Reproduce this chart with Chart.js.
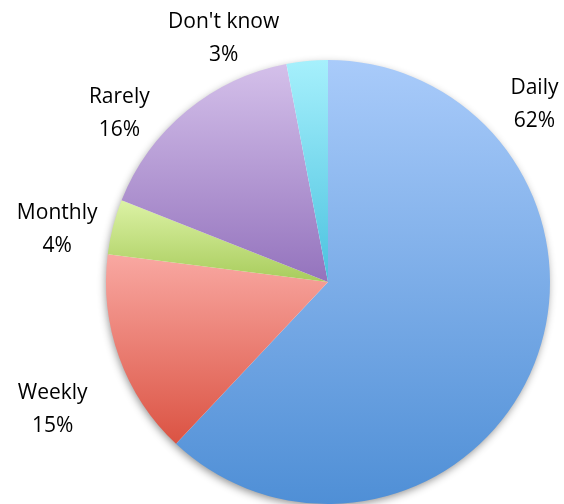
<!DOCTYPE html>
<html>
<head>
<meta charset="utf-8">
<script src="https://cdn.jsdelivr.net/npm/chart.js@4"></script>
<style>
  html, body { margin: 0; padding: 0; background: #fff; }
  #wrap { width: 564px; height: 504px; position: relative; }
</style>
</head>
<body>
<div id="wrap"><canvas id="pieChart"></canvas></div>
<script>
const labels = ["Daily", "Weekly", "Monthly", "Rarely", "Don't know"];
const shares = [62, 15, 4, 16, 3];
const topColors = ["#a9cbfa", "#f9a8a2", "#dcf2a5", "#d4c0ea", "#a6f0fc"];
const bottomColors = ["#4f8fd6", "#db5343", "#a8cc5c", "#9473bd", "#4bc2df"];

// label placement, as offsets from the pie centre in units of the radius
const labelSpots = [[0.93, -0.80], [-1.24, 0.57], [-1.22, -0.24], [-0.94, -0.76], [-0.47, -1.10]];

// vertical extent of one slice, used for its own top-to-bottom gradient
function sliceExtent(i, cy, r) {
  const total = shares.reduce((a, b) => a + b, 0);
  let before = 0;
  for (let k = 0; k < i; k++) before += shares[k];
  const a0 = -Math.PI / 2 + before / total * Math.PI * 2;
  const a1 = a0 + shares[i] / total * Math.PI * 2;
  const ys = [cy, cy + r * Math.sin(a0), cy + r * Math.sin(a1)];
  for (let a = -Math.PI / 2; a <= 3 * Math.PI; a += Math.PI) {
    if (a >= a0 && a <= a1) ys.push(cy + r * Math.sin(a));
  }
  return [Math.min(...ys), Math.max(...ys)];
}

const pieShadow = {
  id: "pieShadow",
  beforeDatasetsDraw(chart) {
    const arc = chart.getDatasetMeta(0).data[0];
    if (!arc) return;
    const ctx = chart.ctx;
    ctx.save();
    ctx.shadowColor = "rgba(0,0,0,0.45)";
    ctx.shadowBlur = 9;
    ctx.shadowOffsetX = -1;
    ctx.shadowOffsetY = 3;
    ctx.fillStyle = "#ffffff";
    ctx.beginPath();
    ctx.arc(arc.x, arc.y, arc.outerRadius - 1, 0, Math.PI * 2);
    ctx.fill();
    ctx.restore();
  }
};

const sliceLabels = {
  id: "sliceLabels",
  afterDatasetsDraw(chart) {
    const arc = chart.getDatasetMeta(0).data[0];
    if (!arc) return;
    const ctx = chart.ctx;
    ctx.save();
    ctx.font = "21px 'Open Sans', sans-serif";
    ctx.fillStyle = "#000";
    ctx.textAlign = "center";
    ctx.textBaseline = "middle";
    labels.forEach((name, i) => {
      const x = arc.x + labelSpots[i][0] * arc.outerRadius;
      const y = arc.y + labelSpots[i][1] * arc.outerRadius;
      ctx.fillText(name, x, y - 16);
      ctx.fillText(shares[i] + "%", x, y + 17);
    });
    ctx.restore();
  }
};

window.addEventListener("DOMContentLoaded", () => {
  const ctx = document.getElementById("pieChart").getContext("2d");

  new Chart(ctx, {
    type: "pie",
    data: {
      labels: labels,
      datasets: [{
        data: shares,
        borderWidth: 0,
        backgroundColor: (c) => {
          const area = c.chart.chartArea;
          if (!area) return topColors[c.dataIndex];
          const r = Math.min(area.right - area.left, area.bottom - area.top) / 2;
          const cy = (area.top + area.bottom) / 2;
          const [y0, y1] = sliceExtent(c.dataIndex, cy, r);
          const g = c.chart.ctx.createLinearGradient(0, y0, 0, y1);
          g.addColorStop(0, topColors[c.dataIndex]);
          g.addColorStop(1, bottomColors[c.dataIndex]);
          return g;
        }
      }]
    },
    options: {
      responsive: true,
      maintainAspectRatio: false,
      animation: false,
      layout: {
        padding: { top: 60, bottom: 0, left: 106, right: 14 }
      },
      plugins: {
        legend: { display: false },
        tooltip: { enabled: false }
      }
    },
    plugins: [pieShadow, sliceLabels]
  });
});
</script>
</body>
</html>
